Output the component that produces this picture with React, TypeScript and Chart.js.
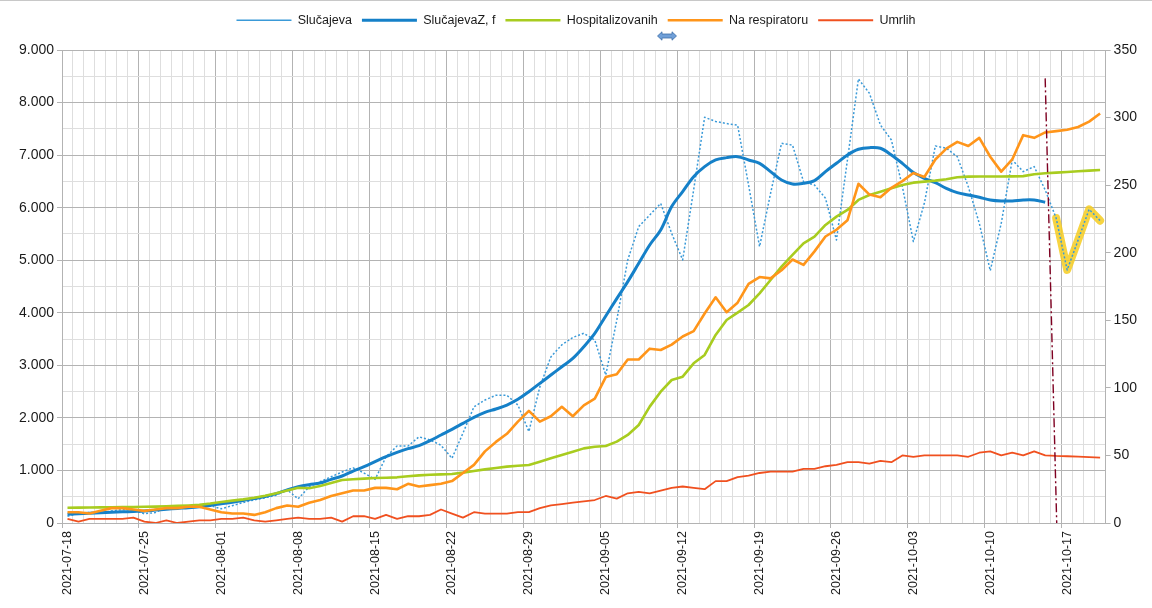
import React, { useEffect, useRef } from 'react';
import { Chart, registerables } from 'chart.js';

Chart.register(...registerables);

const FONT = "'Liberation Sans', Arial, Helvetica, sans-serif";

// ---- data -------------------------------------------------------------
const firstDay = '2021-07-18';
const dayCount = 95;
const labelEvery = 7;

function buildDates(start: string, n: number): string[] {
  const out: string[] = [];
  const base = new Date(start + 'T00:00:00Z').getTime();
  for (let i = 0; i < n; i++) {
    out.push(new Date(base + i * 86400000).toISOString().slice(0, 10));
  }
  return out;
}
const dates = buildDates(firstDay, dayCount);

// Slučajeva (left axis)
const cases = [
  130, 180, 200, 185, 230, 255, 250, 175, 200, 300,
  320, 320, 310, 330, 270, 330, 390, 440, 480, 530,
  630, 460, 690, 786, 880, 970, 1050, 950, 830, 1260,
  1465, 1465, 1640, 1580, 1480, 1230, 1710, 2210, 2340, 2430,
  2430, 2245, 1740, 2590, 3160, 3390, 3530, 3610, 3480, 2815,
  3860, 5005, 5640, 5860, 6080, 5510, 5005, 6340, 7720, 7640,
  7600, 7570, 6430, 5260, 6270, 7225, 7190, 6495, 6430, 6180,
  5385, 6910, 8450, 8176, 7574, 7288, 6400, 5354, 6083, 7174,
  7130, 6971, 6400, 5703, 4802, 5703, 6908, 6686, 6781, 6337,
  5800, 4815, 5385, 5969, 5753,
];

// SlučajevaZ, f (left axis)
const casesSmoothed = [
  165, 175, 185, 195, 205, 212, 220, 228, 245, 262,
  278, 292, 310, 335, 365, 395, 430, 465, 505, 560,
  630, 690, 730, 760, 831, 894, 989, 1072, 1167, 1262,
  1344, 1414, 1471, 1566, 1674, 1782, 1896, 2010, 2105, 2169,
  2245, 2353, 2498, 2657, 2815, 2974, 3133, 3355, 3608, 3940,
  4270, 4592, 4941, 5290, 5576, 6020, 6305, 6590, 6781, 6908,
  6952, 6971, 6908, 6844, 6686, 6527, 6451, 6464, 6514, 6686,
  6844, 7003, 7111, 7142, 7130, 7003, 6844, 6667, 6559, 6476,
  6369, 6286, 6242, 6197, 6147, 6127, 6127, 6147, 6147, 6102,
  null, null, null, null, null,
];

// Hospitalizovanih (left axis)
const hospitalized = [
  290, 292, 295, 297, 300, 302, 305, 308, 312, 318,
  325, 333, 345, 370, 400, 425, 450, 480, 520, 565,
  620, 670, 660, 704, 760, 818, 831, 845, 856, 862,
  869, 890, 907, 918, 925, 932, 958, 990, 1021, 1045,
  1072, 1090, 1103, 1167, 1230, 1294, 1357, 1420, 1452, 1465,
  1548, 1675, 1865, 2214, 2499, 2721, 2785, 3038, 3197, 3578,
  3863, 4003, 4148, 4370, 4624, 4878, 5100, 5322, 5449, 5671,
  5829, 5956, 6147, 6242, 6305, 6369, 6432, 6476, 6495, 6514,
  6540, 6578, 6590, 6592, 6594, 6594, 6596, 6600, 6635, 6654,
  6667, 6680, 6692, 6705, 6717,
];

// Na respiratoru (right axis)
const onVentilator = [
  8, 8, 7, 9, 11, 11, 10, 9, 10, 11,
  11, 12, 12, 10, 8, 7, 7, 6, 8, 11,
  13, 12, 15, 17, 20, 22, 24, 24, 26, 26,
  25, 29, 27, 28, 29, 31, 37, 43, 53, 60,
  66, 75, 83, 75, 79, 86, 79, 87, 92, 108,
  110, 121, 121, 129, 128, 132, 138, 142, 155, 167,
  156, 163, 177, 182, 181, 187, 195, 191, 201, 212,
  217, 224, 251, 243, 241, 248, 253, 259, 256, 269,
  277, 282, 279, 285, 271, 260, 269, 287, 285, 289,
  290, 291, 293, 297, 303,
];

// Umrlih (right axis)
const deaths = [
  3, 1, 3, 3, 3, 3, 4, 1, 0, 2,
  0, 1, 2, 2, 3, 3, 4, 2, 1, 2,
  3, 4, 3, 3, 4, 1, 5, 5, 3, 6,
  3, 5, 5, 6, 10, 7, 4, 8, 7, 7,
  7, 8, 8, 11, 13, 14, 15, 16, 17, 20,
  18, 22, 23, 22, 24, 26, 27, 26, 25, 31,
  31, 34, 35, 37, 38, 38, 38, 40, 40, 42,
  43, 45, 45, 44, 46, 45, 50, 49, 50, 50,
  50, 50, 49, 52, 53, 50, 52, 50, 53, 50,
  49.6, 49.4, 49.1, 48.8, 48.3,
];

// highlighted tail of the Slučajeva series (from this day index on)
const highlightFrom = 90;

// dash-dot marker line (category index, left-axis value)
const markerLine = { fromIndex: 89.0, fromValue: 8460, toIndex: 90.05, toValue: 0 };

const leftAxis = { min: 0, max: 9000, step: 500, major: 1000 };
const rightAxis = { min: 0, max: 350, step: 50 };

const seriesNames = ['Slučajeva', 'SlučajevaZ, f', 'Hospitalizovanih', 'Na respiratoru', 'Umrlih'];

// ---- helpers ------------------------------------------------------------
function fmtThousands(v: number): string {
  if (v === 0) return '0';
  const th = Math.floor(v / 1000);
  const rest = v % 1000;
  return th > 0 ? `${th}.${String(rest).padStart(3, '0')}` : String(rest);
}

const MAJOR = '#b3b3b3';
const MINOR = '#dedede';
const LEGEND_BAND = 46;

const markerPlugin = {
  id: 'markerLine',
  afterDatasetsDraw(chart: any) {
    const xs = chart.scales.x;
    const ys = chart.scales.y;
    const ctx = chart.ctx;
    ctx.save();
    ctx.strokeStyle = '#7e0021';
    ctx.lineWidth = 1.4;
    ctx.setLineDash([9, 3, 2, 3]);
    ctx.beginPath();
    ctx.moveTo(xs.getPixelForValue(markerLine.fromIndex), ys.getPixelForValue(markerLine.fromValue));
    ctx.lineTo(xs.getPixelForValue(markerLine.toIndex), ys.getPixelForValue(markerLine.toValue));
    ctx.stroke();
    ctx.restore();
  },
};

const legendBandPlugin = {
  id: 'legendBand',
  beforeLayout(chart: any) {
    const lg = chart.legend;
    if (lg && !lg.__banded) {
      const orig = lg.fit;
      lg.fit = function (this: any) {
        orig.call(this);
        this.height = LEGEND_BAND;
      };
      lg.__banded = true;
    }
  },
};

export default function App() {
  const ref = useRef<HTMLCanvasElement | null>(null);

  useEffect(() => {
    if (!ref.current) return;
    Chart.defaults.font.family = FONT;
    const highlight = cases.map((v, i) => (i >= highlightFrom ? v : null));

    const chart = new Chart(ref.current, {
      type: 'line',
      data: {
        labels: dates,
        datasets: [
          {
            label: seriesNames[0],
            data: cases,
            borderColor: '#3a9ad8',
            backgroundColor: '#3a9ad8',
            borderWidth: 1.5,
            borderDash: [2, 2],
            yAxisID: 'y',
            order: 10,
          },
          {
            label: seriesNames[1],
            data: casesSmoothed,
            borderColor: '#1580c8',
            backgroundColor: '#1580c8',
            borderWidth: 3,
            tension: 0.35,
            yAxisID: 'y',
            order: 9,
          },
          {
            label: seriesNames[2],
            data: hospitalized,
            borderColor: '#a8cc1f',
            backgroundColor: '#a8cc1f',
            borderWidth: 2.6,
            yAxisID: 'y',
            order: 8,
          },
          {
            label: seriesNames[3],
            data: onVentilator,
            borderColor: '#ff951a',
            backgroundColor: '#ff951a',
            borderWidth: 2.6,
            yAxisID: 'y1',
            order: 7,
          },
          {
            label: seriesNames[4],
            data: deaths,
            borderColor: '#f0501f',
            backgroundColor: '#f0501f',
            borderWidth: 1.8,
            yAxisID: 'y1',
            order: 6,
          },
          {
            label: 'highlight',
            data: highlight,
            borderColor: 'rgba(246,204,32,0.85)',
            backgroundColor: 'rgba(246,204,32,0.85)',
            borderWidth: 8,
            borderCapStyle: 'round',
            yAxisID: 'y',
            order: 11,
          },
        ],
      },
      options: {
        responsive: false,
        animation: false,
        events: [],
        layout: { padding: { top: 4, left: 0, right: 0, bottom: 0 } },
        elements: {
          point: { radius: 0, hoverRadius: 0 },
          line: { borderJoinStyle: 'round', fill: false, tension: 0 },
        },
        plugins: {
          tooltip: { enabled: false },
          legend: {
            position: 'top',
            labels: {
              usePointStyle: true,
              pointStyle: 'line',
              pointStyleWidth: 55,
              padding: 10,
              color: '#1a1a1a',
              font: { size: 12.5, family: FONT },
              filter: (item: any) => item.datasetIndex < 5,
              sort: (a: any, b: any) => a.datasetIndex - b.datasetIndex,
            },
          },
        },
        scales: {
          x: {
            type: 'category',
            offset: true,
            grid: {
              offset: true,
              color: (c: any) => (c.index % labelEvery === 0 ? MAJOR : MINOR),
              tickColor: (c: any) => (c.index % labelEvery === 0 ? MAJOR : 'rgba(0,0,0,0)'),
              tickLength: 5,
              lineWidth: 1,
            },
            border: { color: MAJOR },
            ticks: {
              autoSkip: false,
              minRotation: 90,
              maxRotation: 90,
              padding: 3,
              color: '#1a1a1a',
              font: { size: 12.5, family: FONT },
              callback: function (this: any, value: any, index: number) {
                return index % labelEvery === 0 ? this.getLabelForValue(value) : '';
              },
            },
            afterFit: (s: any) => {
              s.height = 85;
            },
          },
          y: {
            type: 'linear',
            position: 'left',
            min: leftAxis.min,
            max: leftAxis.max,
            grid: {
              color: (c: any) => (c.tick && c.tick.value % leftAxis.major === 0 ? MAJOR : MINOR),
              tickColor: (c: any) =>
                c.tick && c.tick.value % leftAxis.major === 0 ? MAJOR : 'rgba(0,0,0,0)',
              tickLength: 5,
            },
            border: { color: MAJOR },
            ticks: {
              stepSize: leftAxis.step,
              autoSkip: false,
              padding: 3,
              color: '#1a1a1a',
              font: { size: 14, family: FONT },
              callback: (v: any) => (Number(v) % leftAxis.major === 0 ? fmtThousands(Number(v)) : ''),
            },
            afterFit: (s: any) => {
              s.width = 62;
            },
          },
          y1: {
            type: 'linear',
            position: 'right',
            min: rightAxis.min,
            max: rightAxis.max,
            grid: { drawOnChartArea: false, tickColor: MAJOR, tickLength: 5 },
            border: { color: MAJOR },
            ticks: {
              stepSize: rightAxis.step,
              padding: 3,
              color: '#1a1a1a',
              font: { size: 14, family: FONT },
            },
            afterFit: (s: any) => {
              s.width = 46.4;
            },
          },
        },
      } as any,
      plugins: [markerPlugin, legendBandPlugin],
    });
    return () => chart.destroy();
  }, []);

  return (
    <div
      style={{
        position: 'fixed',
        left: 0,
        top: 0,
        width: 1152,
        height: 608,
        background: '#ffffff',
        overflow: 'hidden',
      }}
    >
      <canvas ref={ref} width={1152} height={608} style={{ display: 'block' }} />
      <div style={{ position: 'absolute', left: 0, top: 0, width: 1152, height: 1, background: '#c8c8c8' }} />
      <svg
        width={20}
        height={10}
        viewBox="0 0 20 10"
        style={{ position: 'absolute', left: 657, top: 31 }}
      >
        <polygon
          points="0.5,5 5,0.8 5,3 15,3 15,0.8 19.5,5 15,9.2 15,7 5,7 5,9.2"
          fill="#6f9fd8"
          stroke="#3f6ea8"
          strokeWidth={0.8}
        />
      </svg>
    </div>
  );
}
